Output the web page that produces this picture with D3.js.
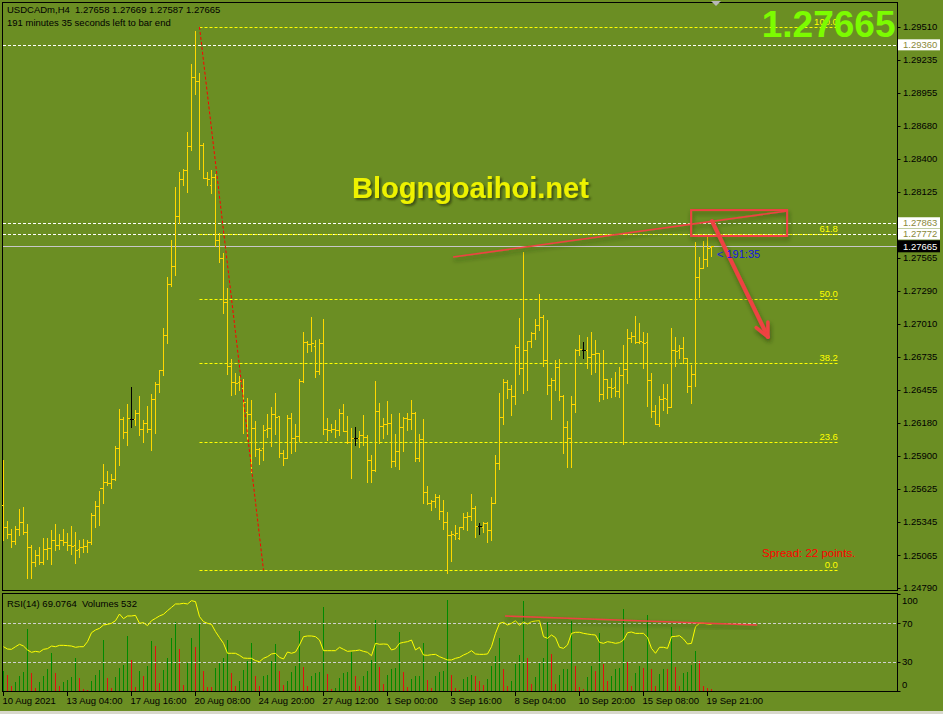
<!DOCTYPE html>
<html><head><meta charset="utf-8">
<script src="https://cdn.jsdelivr.net/npm/d3@7/dist/d3.min.js"></script>
<style>
html,body{margin:0;padding:0;background:#6b8e23;overflow:hidden;}
svg{display:block;}
text{font-family:"Liberation Sans",Arial,sans-serif;}
</style></head><body>
<svg id="c" width="943" height="714"></svg>
<script>
// ===== DATA =====
const openP=[1.25489,1.25303,1.25244,1.25186,1.25286,1.25345,1.25261,1.25135,1.25009,1.25068,
1.25009,1.25118,1.25127,1.25194,1.25152,1.25194,1.25177,1.25152,1.25152,1.25118,
1.25135,1.25144,1.25177,1.25404,1.25481,1.25632,1.25682,1.25674,1.25707,1.25968,
1.26212,1.26102,1.26212,1.26212,1.26263,1.26128,1.26179,1.26128,1.26380,1.26506,
1.26624,1.26919,1.27347,1.27500,1.27920,1.28231,1.28307,1.28509,1.29089,1.29056,
1.28517,1.28240,1.28181,1.28248,1.27718,1.27567,1.27196,1.26658,1.26523,1.26523,
1.26473,1.26271,1.26254,1.26137,1.25959,1.25968,1.26128,1.26137,1.26254,1.26238,
1.25926,1.25884,1.26221,1.26052,1.26069,1.26532,1.26860,1.26843,1.26827,1.26616,
1.26852,1.26128,1.26119,1.26128,1.26119,1.26263,1.26111,1.26018,1.26052,1.26052,
1.26077,1.26060,1.25867,1.25783,1.26280,1.26154,1.26170,1.26179,1.25859,1.25943,
1.26145,1.26221,1.26212,1.26263,1.25884,1.26043,1.25598,1.25506,1.25523,1.25556,
1.25438,1.25345,1.25236,1.25236,1.25211,1.25303,1.25387,1.25396,1.25464,1.25312,
1.25303,1.25337,1.25278,1.25506,1.25842,1.26229,1.26523,1.26464,1.26406,1.26818,
1.26641,1.26793,1.26869,1.26936,1.27003,1.27070,1.26708,1.26498,1.26540,1.26649,
1.26406,1.26145,1.26052,1.26338,1.26793,1.26793,1.26793,1.26734,1.26759,1.26768,
1.26422,1.26548,1.26481,1.26481,1.26447,1.26582,1.26632,1.26894,1.26911,1.26860,
1.26860,1.26860,1.26540,1.26280,1.26170,1.26380,1.26380,1.26313,1.26793,1.26793,
1.26810,1.26726,1.26490,1.26590,1.27407,1.27483,1.27558,1.27658];
const highP=[1.25867,1.25354,1.25286,1.25312,1.25455,1.25472,1.25328,1.25152,1.25110,1.25135,
1.25211,1.25211,1.25278,1.25328,1.25244,1.25286,1.25253,1.25312,1.25261,1.25194,
1.25202,1.25194,1.25421,1.25523,1.25607,1.25833,1.25775,1.25749,1.25985,1.26296,
1.26229,1.26338,1.26481,1.26288,1.26406,1.26204,1.26322,1.26422,1.26523,1.26624,
1.26978,1.27407,1.27718,1.28164,1.28290,1.28315,1.28626,1.29198,1.29477,1.29123,
1.28534,1.28290,1.28307,1.28273,1.27777,1.27609,1.27314,1.26717,1.26599,1.26574,
1.26548,1.26389,1.26372,1.26196,1.25968,1.26162,1.26254,1.26313,1.26431,1.26238,
1.25951,1.26246,1.26263,1.26170,1.26548,1.26944,1.26869,1.27070,1.26877,1.26885,
1.27053,1.26221,1.26170,1.26204,1.26296,1.26338,1.26238,1.26137,1.26145,1.26111,
1.26246,1.26077,1.25909,1.26532,1.26347,1.26221,1.26364,1.26254,1.26085,1.26263,
1.26229,1.26263,1.26372,1.26271,1.26085,1.26212,1.25649,1.25531,1.25581,1.25573,
1.25531,1.25429,1.25270,1.25320,1.25303,1.25421,1.25429,1.25581,1.25481,1.25337,
1.25345,1.25345,1.25556,1.25909,1.26431,1.26548,1.26540,1.26498,1.26835,1.27062,
1.27617,1.26869,1.26944,1.27053,1.27263,1.27087,1.27045,1.26557,1.26708,1.26717,
1.26414,1.26196,1.26406,1.26801,1.26919,1.26860,1.26902,1.26944,1.26877,1.26768,
1.26793,1.26548,1.26557,1.26607,1.26649,1.26835,1.26969,1.26944,1.27079,1.27020,
1.26944,1.26936,1.26599,1.26330,1.26406,1.26506,1.26506,1.26978,1.26902,1.26835,
1.26902,1.26726,1.26666,1.27701,1.27575,1.27710,1.27743,1.27669];
const lowP=[1.25194,1.25211,1.25135,1.25160,1.25236,1.25244,1.24875,1.24875,1.24976,1.24992,
1.24992,1.25034,1.24992,1.25110,1.25118,1.25152,1.25110,1.25076,1.25001,1.25051,
1.25093,1.25093,1.25160,1.25303,1.25320,1.25506,1.25657,1.25632,1.25699,1.25825,
1.26052,1.25993,1.26145,1.26162,1.26077,1.26018,1.26102,1.25951,1.26094,1.26439,
1.26582,1.26852,1.27331,1.27424,1.27861,1.28181,1.28122,1.28475,1.28946,1.28315,
1.28240,1.28181,1.28114,1.27668,1.27533,1.27104,1.26590,1.26414,1.26422,1.26456,
1.26094,1.26043,1.25766,1.25901,1.25833,1.25867,1.26060,1.25985,1.26085,1.25892,
1.25825,1.25884,1.25926,1.25943,1.26027,1.26523,1.26776,1.26785,1.26565,1.26590,
1.26085,1.26035,1.26102,1.26060,1.26077,1.26111,1.26010,1.25716,1.25993,1.25976,
1.25993,1.25682,1.25682,1.25775,1.26010,1.26052,1.26085,1.25808,1.25817,1.25791,
1.25943,1.26119,1.26128,1.25859,1.25859,1.25506,1.25497,1.25446,1.25472,1.25370,
1.25286,1.24917,1.25018,1.25202,1.25202,1.25286,1.25278,1.25362,1.25219,1.25244,
1.25261,1.25177,1.25194,1.25506,1.25791,1.26170,1.26389,1.26246,1.26338,1.26590,
1.26431,1.26456,1.26818,1.26885,1.26961,1.26658,1.26422,1.26212,1.26456,1.26372,
1.25926,1.25808,1.25808,1.26271,1.26751,1.26726,1.26641,1.26590,1.26607,1.26364,
1.26380,1.26389,1.26397,1.26406,1.26397,1.26001,1.26515,1.26860,1.26852,1.26852,
1.26641,1.26322,1.26229,1.26170,1.26154,1.26288,1.26263,1.26313,1.26658,1.26726,
1.26683,1.26439,1.26347,1.26490,1.27238,1.27483,1.27500,1.27587];
const closeP=[1.25303,1.25244,1.25186,1.25286,1.25345,1.25261,1.25135,1.25009,1.25068,1.25009,
1.25118,1.25127,1.25194,1.25152,1.25194,1.25177,1.25152,1.25144,1.25110,1.25135,
1.25144,1.25177,1.25404,1.25481,1.25632,1.25682,1.25674,1.25707,1.25968,1.26212,
1.26102,1.26221,1.26212,1.26263,1.26128,1.26179,1.26128,1.26380,1.26506,1.26624,
1.26919,1.27347,1.27500,1.27920,1.28231,1.28307,1.28509,1.29089,1.29056,1.28517,
1.28240,1.28231,1.28248,1.27718,1.27567,1.27196,1.26658,1.26523,1.26515,1.26532,
1.26355,1.26254,1.26137,1.25959,1.25951,1.26119,1.26137,1.26254,1.26229,1.25926,
1.25884,1.26221,1.26052,1.26069,1.26532,1.26860,1.26843,1.26852,1.26616,1.26852,
1.26128,1.26119,1.26128,1.26119,1.26263,1.26111,1.26018,1.26052,1.26052,1.26077,
1.26060,1.25867,1.25783,1.26280,1.26154,1.26170,1.26179,1.25859,1.25943,1.26145,
1.26221,1.26212,1.26263,1.25884,1.26043,1.25598,1.25506,1.25523,1.25556,1.25438,
1.25345,1.25236,1.25244,1.25253,1.25303,1.25387,1.25396,1.25464,1.25312,1.25312,
1.25337,1.25278,1.25506,1.25842,1.26229,1.26523,1.26464,1.26406,1.26818,1.26641,
1.26793,1.26869,1.26936,1.27003,1.27070,1.26708,1.26498,1.26540,1.26649,1.26406,
1.26145,1.26052,1.26338,1.26793,1.26801,1.26793,1.26734,1.26759,1.26768,1.26422,
1.26548,1.26481,1.26473,1.26447,1.26582,1.26632,1.26894,1.26911,1.26860,1.26869,
1.26852,1.26540,1.26280,1.26170,1.26380,1.26389,1.26313,1.26793,1.26785,1.26810,
1.26726,1.26490,1.26590,1.27407,1.27483,1.27558,1.27651,1.27665];
const volumes=[5200,4128,1290,2408,3870,4988,15996,4644,860,2408,
3870,5676,9804,4644,1290,2408,2838,3526,8514,3354,
516,344,2580,4128,5332,13158,3354,860,3612,5934,
6708,14190,8084,1032,5160,3870,6364,12900,11610,2064,
5418,8514,13674,17716,10836,1548,7224,13674,11352,17544,
5160,1032,1032,5934,7224,8514,13158,4644,1290,2580,
5418,7740,12384,3870,1290,3870,4128,7740,12126,5246,
1548,2580,4902,6450,15480,6192,1290,3870,4644,4902,
21672,4386,516,774,3354,4644,4902,10062,3870,1290,
3870,5160,7998,18318,6192,1806,4128,5676,5900,15222,
4902,1032,3096,3870,4000,12470,2838,774,3870,4902,
5246,23478,4128,774,258,3096,3612,4128,3870,2580,
1548,3096,6450,9030,13674,5676,1290,2580,6966,9288,
23220,8514,1806,3612,7482,8514,17802,9546,1806,4128,
5676,5800,18060,6450,1032,516,3612,6450,5160,14964,
6966,2580,3870,5676,5934,21156,7482,1290,4644,6450,
5934,19608,5676,1290,4386,5676,5676,16512,6192,1290,
4644,5000,6708,10320,7740,1290,774,532];
const rsi=[45.8,43.4,43.1,45.8,48.3,46.5,42.4,40.0,41.0,40.3,
43.1,43.8,46.5,45.8,47.2,47.2,46.9,46.5,45.2,45.8,
45.8,51.0,60.3,63.1,64.8,68.3,68.9,70.0,72.7,79.6,
74.8,77.6,77.6,78.2,70.0,70.7,67.6,72.7,75.1,77.6,
79.3,83.1,86.5,90.0,90.0,90.7,90.0,93.4,92.4,76.9,
71.7,70.0,68.9,61.4,55.2,49.3,39.0,39.0,39.0,36.9,
34.1,33.8,33.8,31.4,30.3,33.8,35.5,38.3,39.0,34.8,
33.1,40.3,39.0,40.3,47.6,56.2,56.9,56.9,56.2,52.7,
41.7,41.7,41.7,41.7,45.2,43.1,41.0,41.4,41.7,42.4,
41.0,40.0,36.5,49.3,48.3,48.6,48.3,42.4,43.8,49.3,
50.3,51.0,52.7,42.4,45.2,37.2,36.9,37.6,37.9,35.5,
33.8,32.1,32.1,33.8,34.8,37.2,39.0,41.7,38.3,37.9,
37.9,38.3,45.8,59.6,70.0,71.0,68.3,70.0,72.7,67.9,
71.4,69.3,71.7,72.4,72.7,56.2,54.5,57.9,55.2,45.2,
44.1,47.6,59.6,60.7,60.7,59.6,58.9,58.3,57.9,50.3,
49.3,51.0,50.3,49.3,50.0,52.7,60.3,61.0,59.6,59.6,
59.6,55.5,44.1,39.0,45.2,45.2,44.1,56.2,56.5,57.2,
53.8,48.6,49.3,66.5,70.0,70.0,69.3,69.08];

const timeLabels=["10 Aug 2021","13 Aug 04:00","17 Aug 16:00","20 Aug 08:00","24 Aug 20:00","27 Aug 12:00","1 Sep 00:00","3 Sep 16:00","8 Sep 04:00","10 Sep 20:00","15 Sep 08:00","19 Sep 21:00"];
const timeLabelBars=[0,16,32,48,64,80,96,112,128,144,160,176];
const priceTicks=[1.29510,1.29235,1.28955,1.28680,1.28400,1.28125,1.27565,1.27290,1.27010,1.26735,1.26455,1.26180,1.25900,1.25625,1.25345,1.25065,1.24790];
const hLines=[1.29360,1.27863,1.27772];
const lastPrice=1.27665;
const rsiTicks=[100,70,30,0];
const rsiLevels=[70,30];
const fibRatios=[0,0.236,0.382,0.5,0.618,1];
const fibNames=["0.0","23.6","38.2","50.0","61.8","100.0"];
const fibHigh=1.29510, fibLow=1.24940;

// ===== SCALES =====
const svg=d3.select("#c");
const W=943,H=714;
const x=d3.scaleLinear().domain([0,177]).range([3.5,711.5]);
const y=d3.scaleLinear().domain([1.24790,1.29510]).range([588,27]);
const ry=d3.scaleLinear().domain([0,100]).range([691,594.3]);
const vy=d3.scaleLinear().domain([0,25000]).range([691,594.3]);
const AX=897.5;

const defs=svg.append("defs");
const f=defs.append("filter").attr("id","sh").attr("x","-30%").attr("y","-30%").attr("width","160%").attr("height","180%");
f.append("feDropShadow").attr("dx",1).attr("dy",3).attr("stdDeviation",2).attr("flood-color","#243208").attr("flood-opacity",0.55);
const f2=defs.append("filter").attr("id","tsh").attr("x","-10%").attr("y","-20%").attr("width","120%").attr("height","140%");
f2.append("feDropShadow").attr("dx",2).attr("dy",2).attr("stdDeviation",1).attr("flood-color","#2f3d0c").attr("flood-opacity",0.8);

svg.append("rect").attr("width",W).attr("height",H).attr("fill","#6b8e23");
svg.append("rect").attr("x",0).attr("y",711).attr("width",W).attr("height",3).attr("fill","#d8d8cc");

// panels
svg.append("rect").attr("x",2.5).attr("y",2.5).attr("width",AX-2.5).attr("height",588).attr("fill","none").attr("stroke","#000");
svg.append("rect").attr("x",2.5).attr("y",593.5).attr("width",AX-2.5).attr("height",98).attr("fill","none").attr("stroke","#000");

const g=svg.append("g");
// white dashed horizontal lines
g.selectAll(".hl").data(hLines).join("line")
 .attr("x1",3).attr("x2",AX-1).attr("y1",d=>Math.round(y(d))+0.5).attr("y2",d=>Math.round(y(d))+0.5)
 .attr("stroke","#ffffff").attr("stroke-dasharray","3,2");
// fib levels
const fibStart=49, fibEnd=208.6, fibDiagEnd=65;
const fibPrice=r=>fibLow+r*(fibHigh-fibLow);
g.selectAll(".fib").data(fibRatios).join("line")
 .attr("x1",x(fibStart)).attr("x2",x(fibEnd))
 .attr("y1",d=>Math.round(y(fibPrice(d)))+0.5).attr("y2",d=>Math.round(y(fibPrice(d)))+0.5)
 .attr("stroke","#ffff00").attr("stroke-dasharray","3,2");
g.selectAll(".fibt").data(fibRatios).join("text")
 .attr("x",x(fibEnd)).attr("y",d=>Math.round(y(fibPrice(d)))-2)
 .attr("text-anchor","end").attr("font-size","9.5px").attr("fill","#ffff00")
 .text((d,i)=>fibNames[i]);
// last price line
g.append("line").attr("x1",3).attr("x2",AX-1).attr("y1",Math.round(y(lastPrice))+0.5).attr("y2",Math.round(y(lastPrice))+0.5)
 .attr("stroke","#c8c8c8");

// bars
const idx=d3.range(openP.length);
const bars=g.append("g").attr("shape-rendering","crispEdges");
idx.forEach(i=>{
  const doji=Math.abs(openP[i]-closeP[i])<1e-7;
  const col=doji?"#000000":"#ffd700";
  const xi=x(i);
  bars.append("line").attr("x1",xi).attr("x2",xi).attr("y1",y(highP[i])).attr("y2",y(lowP[i])+1).attr("stroke",col);
  bars.append("line").attr("x1",xi-2).attr("x2",xi).attr("y1",Math.round(y(openP[i]))+0.5).attr("y2",Math.round(y(openP[i]))+0.5).attr("stroke",col);
  bars.append("line").attr("x1",xi).attr("x2",xi+2).attr("y1",Math.round(y(closeP[i]))+0.5).attr("y2",Math.round(y(closeP[i]))+0.5).attr("stroke",col);
});

// fib diagonal
g.append("line").attr("x1",x(fibStart)).attr("y1",y(fibHigh)).attr("x2",x(fibDiagEnd)).attr("y2",y(fibLow))
 .attr("stroke","#ff0000").attr("stroke-dasharray","3,2");

// red annotations
const red="#ee4242";
const ann=g.append("g").attr("filter","url(#sh)");
ann.append("line").attr("x1",x(112.4)).attr("y1",y(1.27575)).attr("x2",x(195.9)).attr("y2",y(1.27962))
 .attr("stroke",red).attr("stroke-width",1.6);
ann.append("rect").attr("x",x(171.9)).attr("y",y(1.27970)).attr("width",x(195.9)-x(171.9)).attr("height",y(1.27752)-y(1.27970))
 .attr("fill","none").attr("stroke",red).attr("stroke-width",2);
const a0=[x(177.1),y(1.27878)], a1=[x(191.1),y(1.26902)];
ann.append("line").attr("x1",a0[0]).attr("y1",a0[1]).attr("x2",a1[0]).attr("y2",a1[1]).attr("stroke",red).attr("stroke-width",4).attr("stroke-linecap","round");
const ang=Math.atan2(a1[1]-a0[1],a1[0]-a0[0]);
const hl=15, spread=0.45;
const p1=[a1[0]-hl*Math.cos(ang-spread),a1[1]-hl*Math.sin(ang-spread)];
const p2=[a1[0]-hl*Math.cos(ang+spread),a1[1]-hl*Math.sin(ang+spread)];
ann.append("path").attr("d",`M${p1[0]},${p1[1]}L${a1[0]},${a1[1]}L${p2[0]},${p2[1]}`).attr("fill","none").attr("stroke",red).attr("stroke-width",3.5).attr("stroke-linecap","round").attr("stroke-linejoin","round");

// price axis
const ax=svg.append("g");
ax.selectAll(".pt").data(priceTicks).join("line").attr("x1",AX).attr("x2",AX+3)
 .attr("y1",d=>Math.round(y(d))+0.5).attr("y2",d=>Math.round(y(d))+0.5).attr("stroke","#000");
ax.selectAll(".ptl").data(priceTicks).join("text").attr("x",903).attr("y",d=>y(d)).attr("dy","0.35em")
 .attr("font-size","9.5px").attr("fill","#000").text(d=>d.toFixed(5));
// label boxes
hLines.forEach(p=>{
  const cy=(p===1.27772)?y(p)+0.5:y(p);
  ax.append("rect").attr("x",898).attr("y",cy-5.5).attr("width",42).attr("height",11).attr("fill","#ffffff");
  ax.append("text").attr("x",903).attr("y",cy).attr("dy","0.35em").attr("font-size","9.5px").attr("fill","#8a8a3a").text(p.toFixed(5));
});
ax.append("rect").attr("x",898).attr("y",y(lastPrice)-6).attr("width",42).attr("height",12).attr("fill","#000");
ax.append("text").attr("x",903).attr("y",y(lastPrice)).attr("dy","0.35em").attr("font-size","9.5px").attr("fill","#ffffff").text(lastPrice.toFixed(5));

// RSI panel
const rp=svg.append("g");
rp.append("g").attr("shape-rendering","crispEdges").selectAll("line").data(volumes).join("line")
 .attr("x1",(d,i)=>x(i)).attr("x2",(d,i)=>x(i)).attr("y1",vy(0)).attr("y2",d=>vy(d))
 .attr("stroke",(d,i)=>(i===0||d>volumes[i-1])?"#008a00":"#e01010");
rp.selectAll(".rl").data(rsiLevels).join("line").attr("x1",3).attr("x2",AX-1)
 .attr("y1",d=>Math.round(ry(d))+0.5).attr("y2",d=>Math.round(ry(d))+0.5)
 .attr("stroke","#d0d0d0").attr("stroke-dasharray","3,2");
rp.append("path").datum(rsi).attr("d",d3.line().x((d,i)=>x(i)).y(d=>ry(d)))
 .attr("fill","none").attr("stroke","#ffff00").attr("stroke-width",1);
rp.append("line").attr("x1",x(125.4)).attr("y1",ry(77.6)).attr("x2",x(188.4)).attr("y2",ry(68.3))
 .attr("stroke",red).attr("stroke-width",1.5).attr("filter","url(#sh)");
rp.selectAll(".rt").data(rsiTicks).join("line").attr("x1",AX).attr("x2",AX+3)
 .attr("y1",d=>Math.round(ry(d))+0.5).attr("y2",d=>Math.round(ry(d))+0.5).attr("stroke","#000");
rp.selectAll(".rtl").data(rsiTicks).join("text").attr("x",902)
 .attr("y",d=>Math.max(601,Math.min(685,ry(d)))).attr("dy","0.35em")
 .attr("font-size","9.5px").attr("fill","#000").text(d=>d);
rp.append("text").attr("x",7).attr("y",606.5).attr("font-size","9.5px").attr("fill","#000")
 .style("white-space","pre").text("RSI(14) 69.0764  Volumes 532");

// time axis
const ta=svg.append("g");
ta.selectAll("line").data(timeLabelBars).join("line").attr("x1",d=>x(d)).attr("x2",d=>x(d))
 .attr("y1",691.5).attr("y2",696).attr("stroke","#000").attr("shape-rendering","crispEdges");
ta.selectAll("text").data(timeLabelBars).join("text").attr("x",d=>x(d)-1).attr("y",704)
 .attr("font-size","9.5px").attr("fill","#000").text((d,i)=>timeLabels[i]);

// texts
svg.append("text").attr("x",7).attr("y",12.5).attr("font-size","9.5px").attr("fill","#000")
 .style("white-space","pre").text("USDCADm,H4  1.27658 1.27669 1.27587 1.27665");
svg.append("text").attr("x",7).attr("y",25.5).attr("font-size","9.5px").attr("fill","#000")
 .text("191 minutes 35 seconds left to bar end");
svg.append("text").attr("x",895.5).attr("y",37).attr("text-anchor","end").attr("font-size","37px").attr("font-weight","bold")
 .attr("fill","#7cfc00").text("1.27665");
svg.append("text").attr("x",352).attr("y",198).attr("font-size","29px").attr("font-weight","bold")
 .attr("fill","#eef200").attr("filter","url(#tsh)").text("Blogngoaihoi.net");
svg.append("text").attr("x",762).attr("y",557).attr("font-size","11.5px").attr("fill","#ff0000").text("Spread: 22 points.");
svg.append("text").attr("x",717).attr("y",258).attr("font-size","11px").attr("fill","#1414e0")
 .attr("font-family","'DejaVu Sans Mono',monospace").style("white-space","pre").text("< 191:35");
// chart shift marker
svg.append("path").attr("d","M711,1L721,1L716,6Z").attr("fill","#b8b8b8");
</script>
</body></html>
